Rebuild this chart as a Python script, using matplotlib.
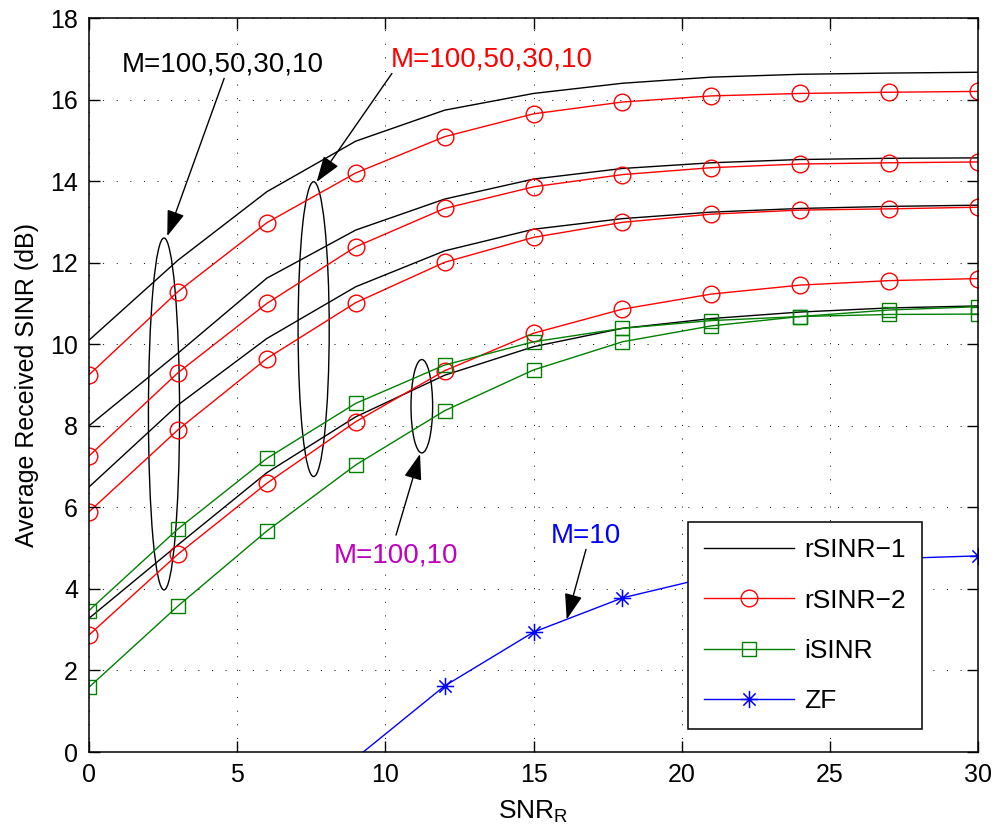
import numpy as np
import matplotlib
matplotlib.use('Agg')
import matplotlib.pyplot as plt
from matplotlib.patches import Ellipse
from matplotlib.path import Path

plt.rcParams['font.family'] = ['Liberation Sans', 'DejaVu Sans']
plt.rcParams['mathtext.fontset'] = 'custom'
plt.rcParams['mathtext.rm'] = 'Liberation Sans'

# SNR_R grid (dB)
snr = [0, 3, 6, 9, 12, 15, 18, 21, 24, 27, 30]

# rSINR-1, M = 100, 50, 30, 10
rsinr1_m100 = [10.1, 12.06, 13.74, 14.98, 15.74, 16.15, 16.4, 16.55, 16.62, 16.65, 16.67]
rsinr1_m50 = [8.0, 9.78, 11.62, 12.8, 13.56, 14.05, 14.31, 14.45, 14.53, 14.56, 14.57]
rsinr1_m30 = [6.5, 8.51, 10.14, 11.41, 12.29, 12.82, 13.08, 13.24, 13.33, 13.38, 13.41]
rsinr1_m10 = [3.28, 5.08, 6.85, 8.22, 9.24, 9.94, 10.39, 10.63, 10.79, 10.89, 10.94]

# rSINR-2, M = 100, 50, 30, 10
rsinr2_m100 = [9.25, 11.29, 12.98, 14.2, 15.09, 15.65, 15.94, 16.09, 16.15, 16.18, 16.2]
rsinr2_m50 = [7.26, 9.3, 11.0, 12.39, 13.33, 13.86, 14.16, 14.33, 14.42, 14.45, 14.47]
rsinr2_m30 = [5.89, 7.9, 9.65, 11.02, 12.01, 12.62, 12.99, 13.19, 13.29, 13.32, 13.36]
rsinr2_m10 = [2.87, 4.85, 6.59, 8.1, 9.35, 10.27, 10.86, 11.23, 11.45, 11.56, 11.61]

# iSINR, M = 100, 10
isinr_m100 = [3.47, 5.47, 7.2, 8.55, 9.49, 10.06, 10.39, 10.58, 10.68, 10.73, 10.74]
isinr_m10 = [1.59, 3.58, 5.42, 7.04, 8.37, 9.37, 10.06, 10.45, 10.68, 10.84, 10.92]

# ZF, M = 10
snr_zf = [9, 12, 15, 18, 21, 24, 27, 30]
zf_m10 = [-0.15, 1.62, 2.94, 3.78, 4.3, 4.6, 4.74, 4.81]

# MATLAB-style asterisk: + and x on top of each other
d = 0.7071
asterisk = Path([(-1, 0), (1, 0), (0, -1), (0, 1), (-d, -d), (d, d), (-d, d), (d, -d)],
                [Path.MOVETO, Path.LINETO] * 4)

fig = plt.figure(figsize=(9.98, 8.34), dpi=100)
ax = fig.add_axes([0.0892, 0.0983, 0.8908, 0.8801])

green = '#008000'
lw = 1.0

for i, y in enumerate([rsinr1_m100, rsinr1_m50, rsinr1_m30, rsinr1_m10]):
    ax.plot(snr, y, color='k', lw=lw, label='rSINR\u22121' if i == 0 else None)
for i, y in enumerate([rsinr2_m100, rsinr2_m50, rsinr2_m30, rsinr2_m10]):
    ax.plot(snr, y, color='r', lw=lw, marker='o', ms=12, mfc='none', mew=1.0,
            label='rSINR\u22122' if i == 0 else None)
for i, y in enumerate([isinr_m100, isinr_m10]):
    ax.plot(snr, y, color=green, lw=lw, marker='s', ms=10, mfc='none', mew=1.0,
            label='iSINR' if i == 0 else None)
# like MATLAB, no marker for the point that lies below the axis
visible = [i for i, v in enumerate(zf_m10) if v >= 0]
ax.plot(snr_zf, zf_m10, color='b', lw=lw, marker=asterisk, ms=12.5, mew=1.1,
        markevery=visible, label='ZF')

ax.set_xlim(0, 30)
ax.set_ylim(0, 18)
ax.set_xticks(np.arange(0, 31, 5))
ax.set_yticks(np.arange(0, 19, 2))
ax.tick_params(direction='in', length=8, width=1, top=True, right=True, labelsize=18, pad=8)
for s in ax.spines.values():
    s.set_linewidth(1.1)
ax.grid(True, color='k', ls=(0, (1, 13)), lw=0.7)
ax.set_axisbelow(False)

ax.set_xlabel('SNR$_\\mathrm{R}$', fontsize=19, labelpad=8)
ax.set_ylabel('Average Received SINR (dB)', fontsize=18, labelpad=8)

# ellipses grouping the curves
ax.add_patch(Ellipse((2.53, 8.29), 1.05, 8.63, fill=False, ec='k', lw=1))
ax.add_patch(Ellipse((7.58, 10.37), 1.05, 7.23, fill=False, ec='k', lw=1))
ax.add_patch(Ellipse((11.23, 8.48), 0.73, 2.29, fill=False, ec='k', lw=1))

aprops = dict(arrowstyle='-|>,head_length=1.6,head_width=0.55', color='k', lw=1,
              shrinkA=0, shrinkB=0)
ax.annotate('', xy=(2.64, 12.65), xytext=(4.56, 16.52), arrowprops=aprops)
ax.annotate('', xy=(7.68, 13.98), xytext=(10.22, 16.64), arrowprops=aprops)
ax.annotate('', xy=(11.17, 7.31), xytext=(10.36, 5.32), arrowprops=aprops)
ax.annotate('', xy=(16.12, 3.25), xytext=(16.77, 4.97), arrowprops=aprops)

ax.text(4.52, 16.70, 'M=100,50,30,10', color='k', fontsize=20, ha='center', va='baseline')
ax.text(13.58, 16.81, 'M=100,50,30,10', color='r', fontsize=20, ha='center', va='baseline')
ax.text(10.36, 4.64, 'M=100,10', color='#bf00bf', fontsize=20, ha='center', va='baseline')
ax.text(16.76, 5.13, 'M=10', color='b', fontsize=20, ha='center', va='baseline')

leg = ax.legend(loc='lower right', bbox_to_anchor=(0.937, 0.031), borderaxespad=0,
                fontsize=19, handlelength=3.4, labelspacing=1.0, fancybox=False,
                framealpha=1, edgecolor='k', borderpad=0.6, handletextpad=0.4)
leg.get_frame().set_linewidth(1.1)

fig.savefig('out.png', dpi=100)
